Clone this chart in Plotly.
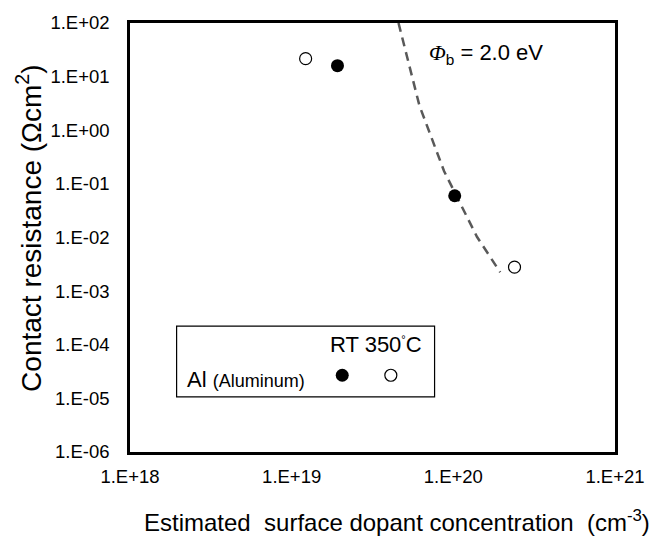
import plotly.graph_objects as go

# Data
al_rt_x = [1.92e19, 1.02e20]
al_rt_y = [16.0, 0.06]
al_350_x = [1.22e19, 2.39e20]
al_350_y = [21.6, 0.0028]
fit_x = [4.58e19, 6.17e19, 8.77e19, 1.40e20, 1.95e20]
fit_y = [100.0, 2.88, 0.172, 0.0103, 0.00225]

x_tickvals = [1e18, 1e19, 1e20, 1e21]
x_ticktext = ["1.E+18", "1.E+19", "1.E+20", "1.E+21"]
y_tickvals = [1e2, 1e1, 1e0, 1e-1, 1e-2, 1e-3, 1e-4, 1e-5, 1e-6]
y_ticktext = ["1.E+02", "1.E+01", "1.E+00", "1.E-01", "1.E-02",
              "1.E-03", "1.E-04", "1.E-05", "1.E-06"]

FONT = "Liberation Sans, Arial, sans-serif"

fig = go.Figure()
fig.add_trace(go.Scatter(
    x=fit_x, y=fit_y, mode="lines",
    line=dict(color="#595959", width=2.5, dash="9px,6px"),
    showlegend=False, hoverinfo="skip"))
fig.add_trace(go.Scatter(
    x=al_350_x, y=al_350_y, mode="markers",
    marker=dict(symbol="circle", size=12, color="white",
                line=dict(color="black", width=1.2)),
    showlegend=False))
fig.add_trace(go.Scatter(
    x=al_rt_x, y=al_rt_y, mode="markers",
    marker=dict(symbol="circle", size=13, color="black",
                line=dict(color="black", width=0)),
    showlegend=False))

fig.update_layout(
    width=657, height=536,
    margin=dict(l=130, r=38, t=16, b=84),
    paper_bgcolor="white", plot_bgcolor="white",
    font=dict(family=FONT, color="black"),
    xaxis=dict(type="log", range=[18, 21], tickvals=x_tickvals, ticktext=x_ticktext,
               showgrid=False, zeroline=False, showline=True, mirror=True,
               linecolor="black", linewidth=2.5, ticks="",
               tickfont=dict(size=18.5, family=FONT), ticklabelstandoff=6),
    yaxis=dict(type="log", range=[-6, 2], tickvals=y_tickvals, ticktext=y_ticktext,
               showgrid=False, zeroline=False, showline=True, mirror=True,
               linecolor="black", linewidth=2.5, ticks="",
               tickfont=dict(size=18.5, family=FONT), ticklabelstandoff=14),
)

# Legend box
fig.add_shape(type="rect", xref="paper", yref="paper",
              x0=0.0961, x1=0.628, y0=0.1284, y1=0.2936,
              line=dict(color="black", width=1.2), fillcolor="white", layer="above")
fig.add_shape(type="circle", xref="paper", yref="paper",
              xsizemode="pixel", ysizemode="pixel",
              xanchor=0.4376, yanchor=0.1789, x0=-6.5, x1=6.5, y0=-6.5, y1=6.5,
              fillcolor="black", line=dict(color="black", width=0), layer="above")
fig.add_shape(type="circle", xref="paper", yref="paper",
              xsizemode="pixel", ysizemode="pixel",
              xanchor=0.5378, yanchor=0.1789, x0=-6, x1=6, y0=-6, y1=6,
              fillcolor="white", line=dict(color="black", width=1.2), layer="above")

fig.add_annotation(xref="paper", yref="paper", x=0.5072, y=0.25,
                   text="RT 350<sup><span style='font-size:11px'>°</span></sup>C",
                   showarrow=False, font=dict(size=22, family=FONT),
                   xanchor="center", yanchor="middle")
fig.add_annotation(xref="paper", yref="paper", x=0.1125, y=0.1697,
                   text="Al <span style='font-size:18px'>(Aluminum)</span>",
                   showarrow=False, font=dict(size=22, family=FONT),
                   xanchor="left", yanchor="middle")

# Barrier height label
fig.add_annotation(xref="paper", yref="paper", x=0.6115, y=0.9289,
                   text="<span style='font-family:Liberation Serif'><i>Φ</i></span><sub>b</sub> = 2.0 eV",
                   showarrow=False, font=dict(size=22, family=FONT),
                   xanchor="left", yanchor="middle")

# Axis titles
fig.add_annotation(xref="paper", yref="paper", x=0.550, y=-0.1606,
                   text="Estimated  surface dopant concentration  (cm<sup>-3</sup>)",
                   showarrow=False, font=dict(size=24, family=FONT),
                   xanchor="center", yanchor="middle")
fig.add_annotation(xref="paper", yref="paper", x=-0.2086, y=0.522,
                   text="Contact resistance (Ωcm<sup>2</sup>)", textangle=-90,
                   showarrow=False, font=dict(size=28, family=FONT),
                   xanchor="center", yanchor="middle")

fig.write_html("out.html")
